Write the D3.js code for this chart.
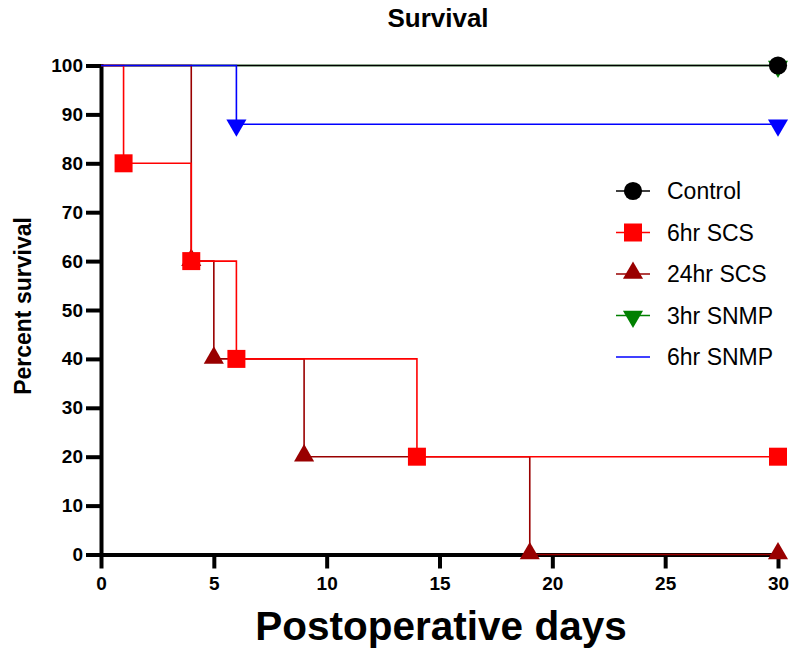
<!DOCTYPE html>
<html>
<head>
<meta charset="utf-8">
<script src="https://cdn.jsdelivr.net/npm/d3@7"></script>
<style>
	body { margin: 0; background: #fff; }
	text { font-family: "Liberation Sans", Arial, sans-serif; }
	.axis path, .axis line { stroke: #000; stroke-width: 4; }
	.axis text { font-size: 19px; font-weight: bold; fill: #000; }
</style>
</head>
<body>
<div class="box"></div>
<script>
// Kaplan-Meier steps
var ctrlDays = [0, 30];
var ctrlSurv = [100, 100];

var scs6Days = [0, 1, 4, 6, 14, 30];
var scs6Surv = [100, 80, 60, 40, 20, 20];

var scs24Days = [0, 4, 5, 9, 19, 30];
var scs24Surv = [100, 60, 40, 20, 0, 0];

var snmp3Days = [0, 30];
var snmp3Surv = [100, 100];

var snmp6Days = [0, 6, 30];
var snmp6Surv = [100, 88, 88];

var xTicks = [0, 5, 10, 15, 20, 25, 30];
var yTicks = [0, 10, 20, 30, 40, 50, 60, 70, 80, 90, 100];

var legendNames = ['Control', '6hr SCS', '24hr SCS', '3hr SNMP', '6hr SNMP'];

function zip(days, surv) {
	return days.map(function(d, i) { return {x: d, y: surv[i]}; });
}

// drawn bottom to top
var series = [
	{name: '3hr SNMP', pts: zip(snmp3Days, snmp3Surv), color: '#008000', shape: 'down'},
	{name: 'Control', pts: zip(ctrlDays, ctrlSurv), color: '#000000', shape: 'circle'},
	{name: '24hr SCS', pts: zip(scs24Days, scs24Surv), color: '#990000', shape: 'up'},
	{name: '6hr SCS', pts: zip(scs6Days, scs6Surv), color: '#ff0000', shape: 'square'},
	{name: '6hr SNMP', pts: zip(snmp6Days, snmp6Surv), color: '#0000ff', shape: 'down'}
];

var width = 792, height = 651;
var svg = d3.select('.box')
	.append('svg')
	.attr('width', width)
	.attr('height', height);

var x = d3.scaleLinear().domain([0, 30]).range([101, 778]);
var y = d3.scaleLinear().domain([0, 100]).range([554.5, 65.5]);

function symbolPath(shape) {
	if (shape === 'circle') return d3.symbol().type(d3.symbolCircle).size(260)();
	if (shape === 'square') return d3.symbol().type(d3.symbolSquare).size(324)();
	return d3.symbol().type(d3.symbolTriangle).size(175)();
}

function symbolTransform(shape, px, py) {
	var t = 'translate(' + px + ',' + py + ')';
	if (shape === 'up') t += ' translate(0,-1)';
	if (shape === 'down') t += ' translate(0,1) rotate(180)';
	return t;
}

// axes
svg.append('g')
	.attr('class', 'axis')
	.attr('transform', 'translate(0,' + y(0) + ')')
	.call(d3.axisBottom(x).tickValues(xTicks).tickSize(14).tickSizeOuter(0).tickPadding(8));

svg.append('g')
	.attr('class', 'axis')
	.attr('transform', 'translate(' + x(0) + ',0)')
	.call(d3.axisLeft(y).tickValues(yTicks).tickSize(15).tickSizeOuter(0).tickPadding(3));

svg.selectAll('.axis .domain').attr('stroke-linecap', 'square');

var line = d3.line()
	.x(function(d) { return x(d.x); })
	.y(function(d) { return y(d.y); })
	.curve(d3.curveStepAfter);

var g = svg.selectAll('g.series')
	.data(series)
	.enter()
	.append('g')
	.attr('class', 'series');

g.append('path')
	.attr('d', function(d) { return line(d.pts); })
	.attr('fill', 'none')
	.attr('stroke', function(d) { return d.color; })
	.attr('stroke-width', 1.6);

g.each(function(s) {
	d3.select(this).selectAll('path.mark')
		.data(s.pts.slice(1))
		.enter()
		.append('path')
		.attr('class', 'mark')
		.attr('d', symbolPath(s.shape))
		.attr('transform', function(d) { return symbolTransform(s.shape, x(d.x), y(d.y)); })
		.attr('fill', s.color);
});

// titles
svg.append('text')
	.attr('x', 438)
	.attr('y', 27)
	.attr('text-anchor', 'middle')
	.style('font-size', '26px')
	.style('font-weight', 'bold')
	.text('Survival');

svg.append('text')
	.attr('transform', 'translate(31,306) rotate(-90)')
	.attr('text-anchor', 'middle')
	.style('font-size', '23px')
	.style('font-weight', 'bold')
	.text('Percent survival');

svg.append('text')
	.attr('x', 441)
	.attr('y', 640)
	.attr('text-anchor', 'middle')
	.style('font-size', '40.5px')
	.style('font-weight', 'bold')
	.text('Postoperative days');

// legend
var legendShape = {
	'Control': 'circle', '6hr SCS': 'square', '24hr SCS': 'up', '3hr SNMP': 'down', '6hr SNMP': null
};
var legendColor = {
	'Control': '#000000', '6hr SCS': '#ff0000', '24hr SCS': '#990000', '3hr SNMP': '#008000', '6hr SNMP': '#0000ff'
};

var lg = svg.selectAll('g.legend')
	.data(legendNames)
	.enter()
	.append('g')
	.attr('class', 'legend')
	.attr('transform', function(d, i) { return 'translate(633,' + (191 + i * 41.5) + ')'; });

lg.append('line')
	.attr('x1', -17)
	.attr('x2', 17)
	.attr('stroke', function(d) { return legendColor[d]; })
	.attr('stroke-width', 1.6);

lg.filter(function(d) { return legendShape[d]; })
	.append('path')
	.attr('d', function(d) { return symbolPath(legendShape[d]); })
	.attr('transform', function(d) { return symbolTransform(legendShape[d], 0, 0); })
	.attr('fill', function(d) { return legendColor[d]; });

lg.append('text')
	.attr('x', 34)
	.attr('y', 8)
	.style('font-size', '23px')
	.text(function(d) { return d; });
</script>
</body>
</html>
